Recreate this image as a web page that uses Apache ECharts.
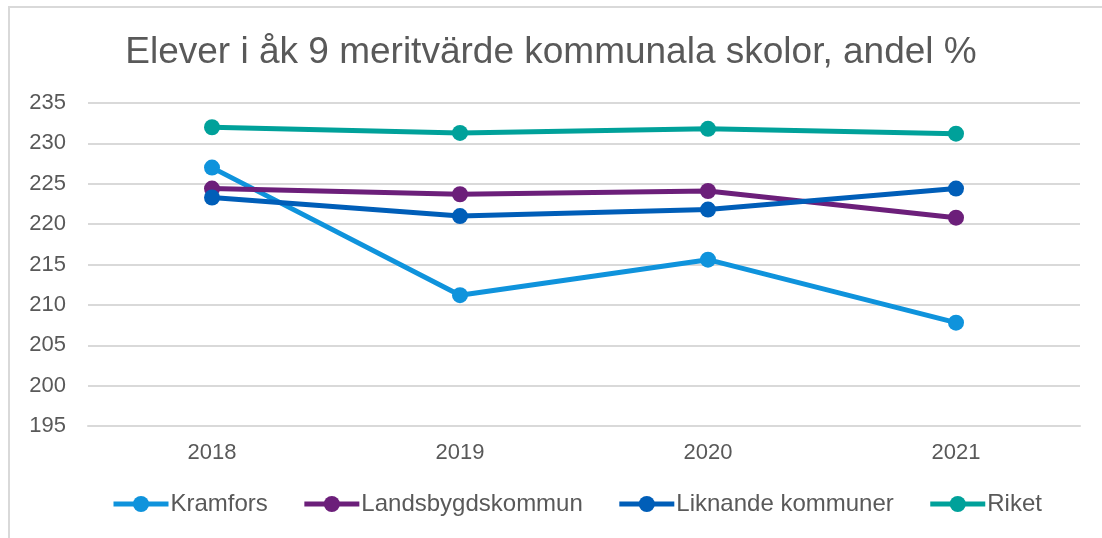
<!DOCTYPE html>
<html lang="sv">
<head>
  <meta charset="utf-8">
  <style>
    html, body { margin: 0; height: 100%; background: #fff; }
    #frame { position: absolute; left: 8px; top: 6px; right: -4px; bottom: -4px;
             border-top: 2px solid #d9d9d9; border-left: 2px solid #d9d9d9; }
    #container { position: absolute; left: 0; top: 0; width: 1102px; height: 538px; }
  </style>
</head>
<body>
  <div id="frame"></div>
  <div id="container"></div>
  <script src="https://cdn.jsdelivr.net/npm/echarts@6/dist/echarts.min.js"></script>
  <script>
    // Data
    var years = ['2018', '2019', '2020', '2021'];
    var kramfors = [227.0, 211.2, 215.6, 207.8];
    var landsbygd = [224.4, 223.7, 224.1, 220.8];
    var liknande = [223.3, 221.0, 221.8, 224.4];
    var riket = [232.0, 231.3, 231.8, 231.2];

    var seriesNames = ['Kramfors', 'Landsbygdskommun', 'Liknande kommuner', 'Riket'];
    var seriesColors = ['#0f93dc', '#6c1f7a', '#005eb8', '#00a19a'];
    var seriesData = [kramfors, landsbygd, liknande, riket];

    var font = 'Liberation Sans, Arial, sans-serif';
    var textColor = '#595959';

    var chart = echarts.init(document.getElementById('container'));

    var option = {
      animation: false,
      title: {
        text: 'Elever i åk 9 meritvärde kommunala skolor, andel %',
        left: 'center',
        top: 29,
        textStyle: { fontFamily: font, fontSize: 37, fontWeight: 'normal', color: textColor }
      },
      legend: {
        bottom: 17,
        left: 106,
        itemWidth: 55,
        itemHeight: 20,
        itemGap: 34,
        lineStyle: { width: 5 },
        textStyle: { fontFamily: font, fontSize: 24, color: textColor, padding: [0, 0, 0, -3] },
        data: seriesNames
      },
      grid: { left: 88, right: 22, top: 103, bottom: 112 },
      xAxis: {
        type: 'category',
        data: years,
        boundaryGap: true,
        axisLine: { lineStyle: { color: '#d9d9d9', width: 2 } },
        axisTick: { show: false },
        axisLabel: { fontFamily: font, fontSize: 22, color: textColor, margin: 16 }
      },
      yAxis: {
        type: 'value',
        min: 195,
        max: 235,
        interval: 5,
        axisLine: { show: false },
        axisTick: { show: false },
        splitLine: { lineStyle: { color: '#d9d9d9', width: 2 } },
        axisLabel: { fontFamily: font, fontSize: 22, color: textColor, margin: 22 }
      },
      series: seriesNames.map(function (name, i) {
        return {
          name: name,
          type: 'line',
          data: seriesData[i],
          symbol: 'circle',
          symbolSize: 16,
          color: seriesColors[i],
          lineStyle: { width: 5, color: seriesColors[i] },
          itemStyle: { color: seriesColors[i] }
        };
      })
    };

    chart.setOption(option);
  </script>
</body>
</html>
